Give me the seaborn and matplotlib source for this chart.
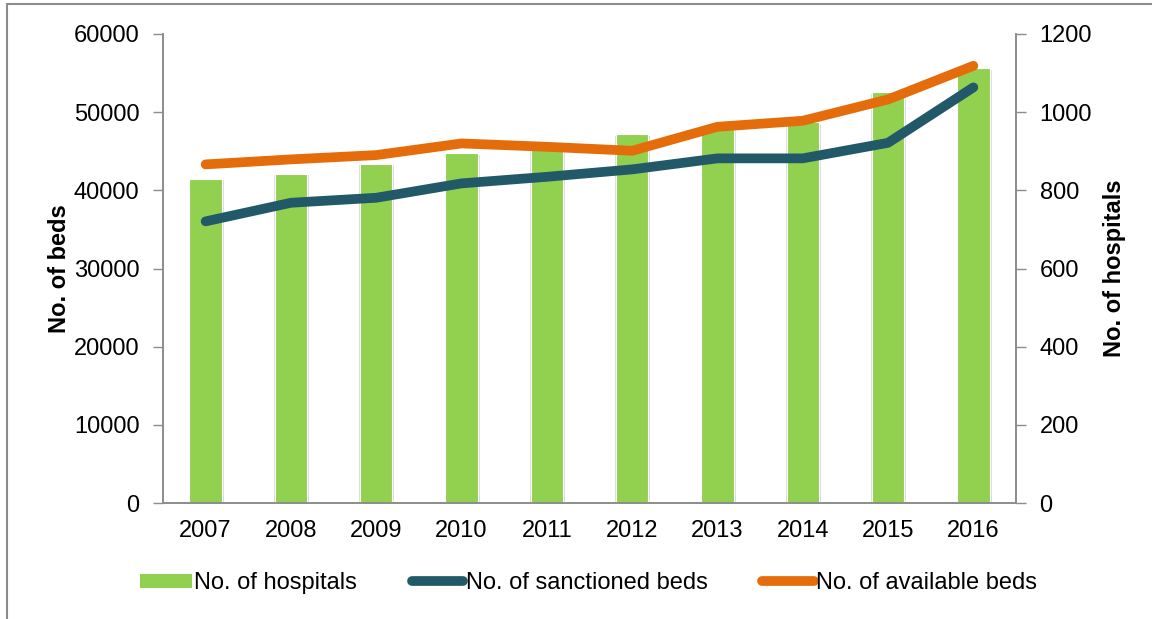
import numpy as np
import seaborn as sns
import matplotlib.pyplot as plt
from matplotlib.lines import Line2D
from matplotlib.patches import Patch

years = ['2007', '2008', '2009', '2010', '2011', '2012', '2013', '2014', '2015', '2016']
hospitals = [830, 843, 868, 895, 921, 943, 966, 975, 1051, 1112]
sanctioned_beds = [36030, 38410, 39050, 40890, 41730, 42680, 44090, 44090, 46080, 53170]
available_beds = [43320, 43960, 44510, 46000, 45570, 45060, 48130, 48900, 51630, 55930]

green = '#92D050'
teal = '#215968'
orange = '#E46C0A'
grey = '#8C8C8C'
fs = 17

sns.set_theme(style='white')
plt.rcParams['font.family'] = ['Liberation Sans', 'DejaVu Sans']
plt.rcParams['text.color'] = 'black'
plt.rcParams['axes.labelcolor'] = 'black'

fig = plt.figure(figsize=(11.52, 6.19), dpi=100)
ax = fig.add_axes([163 / 1152, 1 - 503 / 619, (1016 - 163) / 1152, (503 - 34) / 619])
ax2 = ax.twinx()

# soft shadow behind the bars, then the bars on the right axis
sns.barplot(x=years, y=hospitals, ax=ax2, color='#DDDDDD', width=0.41,
            saturation=1, linewidth=0)
for p in ax2.patches:
    p.set_x(p.get_x() + 0.008)
    p.set_y(-4)
sns.barplot(x=years, y=hospitals, ax=ax2, color=green, width=0.38,
            saturation=1, edgecolor='white', linewidth=0.8)
ax.set_zorder(ax2.get_zorder() + 1)
ax.patch.set_visible(False)

pos = np.arange(len(years))
sns.lineplot(x=pos, y=sanctioned_beds, ax=ax, color=teal, linewidth=7,
             solid_capstyle='round', solid_joinstyle='round')
sns.lineplot(x=pos, y=available_beds, ax=ax, color=orange, linewidth=7,
             solid_capstyle='round', solid_joinstyle='round')

ax.set_xlim(-0.5, 9.5)
ax2.set_xlim(-0.5, 9.5)
ax.set_ylim(0, 60000)
ax2.set_ylim(0, 1200)
ax.set_yticks(np.arange(0, 60001, 10000))
ax2.set_yticks(np.arange(0, 1201, 200))

ax.set_xticks(pos)
ax.set_xticklabels(years)
ax.set_xticks(np.arange(-0.5, 10, 1), minor=True)
ax.tick_params(axis='x', which='major', length=0, pad=12, labelsize=fs, labelcolor='black')
ax.tick_params(axis='x', which='minor', length=6, width=1, color=grey, direction='out')
ax.tick_params(axis='y', length=7, width=1, color=grey, direction='out', pad=10,
               labelsize=fs, labelcolor='black', left=True)
ax2.tick_params(axis='y', length=7, width=1, color=grey, direction='out', pad=10,
                labelsize=fs, labelcolor='black', right=True)
ax2.tick_params(axis='x', length=0, labelbottom=False)
ax2.set_xlabel('')

for a in (ax, ax2):
    a.spines['top'].set_visible(False)
    for s in ('left', 'right', 'bottom'):
        a.spines[s].set_color(grey)
        a.spines[s].set_linewidth(1.2)
    a.grid(False)

ax.set_ylabel('No. of beds', fontsize=fs, fontweight='bold', labelpad=2)
ax2.set_ylabel('No. of hospitals', fontsize=fs, fontweight='bold', labelpad=8)

handles = [
    Patch(facecolor=green, edgecolor='none'),
    Line2D([0], [0], color=teal, linewidth=7, solid_capstyle='round'),
    Line2D([0], [0], color=orange, linewidth=7, solid_capstyle='round'),
]
labels = ['No. of hospitals', 'No. of sanctioned beds', 'No. of available beds']
fig.legend(handles, labels, loc='center', bbox_to_anchor=(0.511, 1 - 583 / 619),
           ncol=3, frameon=False, fontsize=fs, handlelength=2.2, handleheight=0.55,
           handletextpad=0.1, columnspacing=2.3)

# thin grey frame around the chart area
fig.add_artist(Line2D([7 / 1152, 7 / 1152], [0, 1 - 4 / 619], color=grey, linewidth=1.5,
                      transform=fig.transFigure))
fig.add_artist(Line2D([7 / 1152, 1], [1 - 4 / 619, 1 - 4 / 619], color=grey, linewidth=1.5,
                      transform=fig.transFigure))

fig.savefig('out.png', dpi=100)
